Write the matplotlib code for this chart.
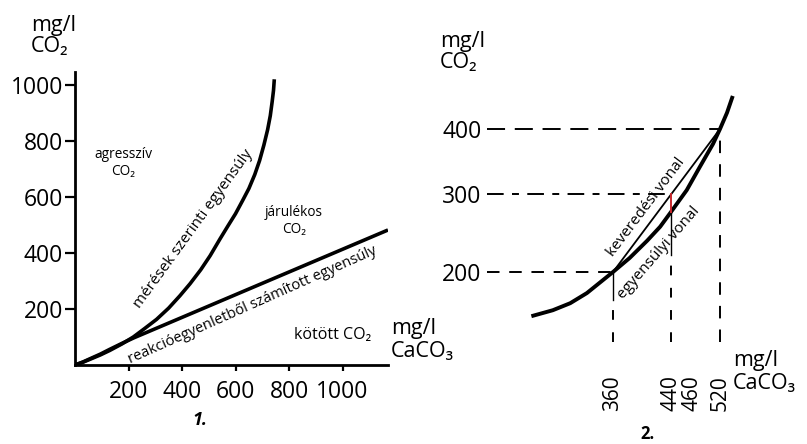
import numpy as np
import matplotlib
matplotlib.use("Agg")
import matplotlib.pyplot as plt

plt.rcParams['font.family'] = ['Open Sans', 'DejaVu Sans']
plt.rcParams['lines.scale_dashes'] = False

# ---------------- data: panel 1 ----------------
p1_xticks = [200, 400, 600, 800, 1000]
p1_yticks = [200, 400, 600, 800, 1000]
meas_x = [0, 30, 60, 95, 130, 175, 218, 260, 305, 350, 392, 430, 470, 505,
          542, 572, 600, 627, 650, 672, 690, 706, 720, 730, 737, 742, 745]
meas_y = [0, 10, 22, 36, 52, 75, 100, 130, 163, 203, 247, 290, 340, 390,
          450, 497, 540, 588, 630, 680, 730, 785, 840, 890, 940, 980, 1020]
react_x = [0, 30, 60, 95, 130, 175, 220, 1170]
react_y = [0, 11, 24, 39, 56, 77, 97, 482]

# ---------------- data: panel 2 ----------------
p2_xticks = [360, 440, 460, 520]
p2_yticks = [200, 300, 400]
eq_x = [250, 277, 301, 324, 360, 383, 407, 425, 440, 455, 477, 505, 520, 535, 546]
eq_y = [144, 151, 160, 173, 200, 218, 240, 258, 277, 306, 342, 377, 400, 425, 448]
mix_x = [360, 520]
mix_y = [200, 400]
h_guide_y = [400, 300, 200]          # horizontal guides (CO2)
h_guide_x = [520, 440, 360]          # ... ending at these CaCO3 values
v_guide_x = [360, 440, 520]          # vertical guides (CaCO3)
v_guide_top = [200, 277, 400]        # top of each vertical guide
v_solid_bottom = [164, 222, None]    # thin solid part ends here
red_x = 440
red_y = [277, 300]

W, H = 807, 444
fig = plt.figure(figsize=(W / 100, H / 100), dpi=100)


def fpos(l, t, r, b):
    return [l / W, 1 - b / H, (r - l) / W, (b - t) / H]


def ftxt(x, y, s, **kw):
    fig.text(x / W, 1 - y / H, s, **kw)


TICKFS = 16.5

# ---------------- panel 1 ----------------
ax1 = fig.add_axes(fpos(75, 72, 388, 365))
ax1.plot(meas_x, meas_y, color='black', lw=2.6, solid_capstyle='butt',
         solid_joinstyle='round')
ax1.plot(react_x, react_y, color='black', lw=2.6, solid_capstyle='butt',
         solid_joinstyle='round')
ax1.set_xlim(0, 1170)
ax1.set_ylim(0, 1046)
ax1.set_xticks(p1_xticks)
ax1.set_yticks(p1_yticks)
for s in ['top', 'right']:
    ax1.spines[s].set_visible(False)
for s in ['left', 'bottom']:
    ax1.spines[s].set_linewidth(2.0)
ax1.tick_params(axis='y', length=7, width=1.6, pad=1.5, labelsize=TICKFS)
ax1.tick_params(axis='x', length=4, width=1.6, pad=7, labelsize=TICKFS)

ftxt(31, 36, 'mg/l\nCO₂', fontsize=15.5, ha='left', va='center', linespacing=0.95)
ftxt(391, 340, 'mg/l\nCaCO₃', fontsize=15.5, ha='left', va='center', linespacing=1.1)
ftxt(123, 163, 'agresszív\nCO₂', fontsize=9.8, ha='center', va='center', linespacing=1.15)
ftxt(294, 221, 'járulékos\nCO₂', fontsize=9.8, ha='center', va='center', linespacing=1.15)
ftxt(333, 335, 'kötött CO₂', fontsize=11.5, ha='center', va='center')
ftxt(193, 229, 'mérések szerinti egyensúly', fontsize=11, ha='center', va='center',
     rotation=54, rotation_mode='anchor')
ftxt(253, 305, 'reakcióegyenletből számított egyensúly', fontsize=10.6, ha='center',
     va='center', rotation=24, rotation_mode='anchor')
ftxt(200, 420, '1.', fontsize=13, fontweight='bold', fontstyle='italic',
     ha='center', va='center')


# ---------------- panel 2 (schematic, non-uniform scale) ----------------
def piecewise(d, p):
    d = np.asarray(d, float)
    p = np.asarray(p, float)

    def f(v, a, b):
        v = np.asarray(v, float)
        out = np.interp(v, a, b)
        lo_s = (b[1] - b[0]) / (a[1] - a[0])
        hi_s = (b[-1] - b[-2]) / (a[-1] - a[-2])
        out = np.where(v < a[0], b[0] + (v - a[0]) * lo_s, out)
        out = np.where(v > a[-1], b[-1] + (v - a[-1]) * hi_s, out)
        return out

    return (lambda v: f(v, d, p)), (lambda u: f(u, p, d))


fx, ix = piecewise(p2_xticks, [613, 671, 692, 720])
fy, iy = piecewise(p2_yticks, [-272, -194, -129])

L2, T2, R2, B2 = 487, 60, 800, 342
ax2 = fig.add_axes(fpos(L2, T2, R2, B2))
ax2.set_xscale('function', functions=(fx, ix))
ax2.set_yscale('function', functions=(fy, iy))
x0, x1 = float(ix(L2)), float(ix(R2))
y0, y1 = float(iy(-B2)), float(iy(-T2))
ax2.set_xlim(x0, x1)
ax2.set_ylim(y0, y1)
for s in ax2.spines.values():
    s.set_visible(False)
ax2.set_xticks(p2_xticks)
ax2.set_yticks(p2_yticks)
ax2.tick_params(axis='y', length=0, pad=4, labelsize=TICKFS)
ax2.tick_params(axis='x', length=0, pad=24, labelsize=15, labelrotation=90)
for lab in ax2.get_xticklabels():
    lab.set_va('top')

dash_h = {400: (0, (13, 7)), 300: (0, (12, 6, 5, 6)), 200: (0, (9, 7))}
for yv, xe in zip(h_guide_y, h_guide_x):
    ax2.plot([x0, xe], [yv, yv], color='black', lw=1.4, ls=dash_h[yv])

for xv, yt, ys in zip(v_guide_x, v_guide_top, v_solid_bottom):
    if ys is None:
        ax2.plot([xv, xv], [y0, yt], color='black', lw=1.4, ls=(0, (9, 8)))
    else:
        ax2.plot([xv, xv], [ys, yt], color='black', lw=1.0)
        ax2.plot([xv, xv], [y0, ys], color='black', lw=1.4, ls=(0, (7, 9)))

ax2.plot(mix_x, mix_y, color='black', lw=1.3)
ax2.plot(eq_x, eq_y, color='black', lw=2.8, solid_joinstyle='round')
ax2.plot([red_x, red_x], red_y, color='#c8282d', lw=1.4)

ftxt(440, 52, 'mg/l\nCO₂', fontsize=15.5, ha='left', va='center', linespacing=0.95)
ftxt(733, 372, 'mg/l\nCaCO₃', fontsize=15.5, ha='left', va='center', linespacing=1.1)
ftxt(646, 207, 'keveredési vonal', fontsize=11, ha='center', va='center',
     rotation=53, rotation_mode='anchor')
ftxt(659, 253, 'egyensúlyi vonal', fontsize=11, ha='center', va='center',
     rotation=49, rotation_mode='anchor')
ftxt(648, 434, '2.', fontsize=12, fontweight='bold', ha='center', va='center')

fig.savefig('out.png', dpi=100)
